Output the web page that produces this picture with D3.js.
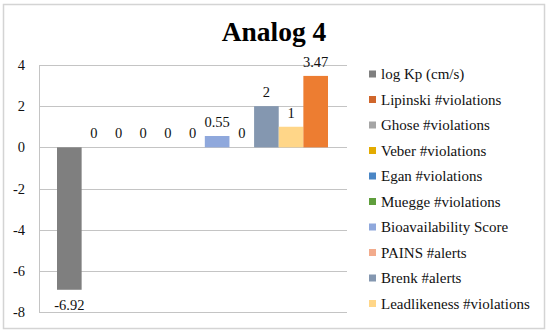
<!DOCTYPE html>
<html>
<head>
<meta charset="utf-8">
<script src="https://cdn.jsdelivr.net/npm/d3@7"></script>
<style>
  body { margin: 0; background: #fff; }
  text { font-family: 'Liberation Serif', 'Times New Roman', serif; }
</style>
</head>
<body>
<div id="app"></div>
<script>
const seriesNames = ['log Kp (cm/s)', 'Lipinski #violations', 'Ghose #violations', 'Veber #violations',
  'Egan #violations', 'Muegge #violations', 'Bioavailability Score', 'PAINS #alerts',
  'Brenk #alerts', 'Leadlikeness #violations', 'Synthetic accessibility'];
const seriesValues = [-6.92, 0, 0, 0, 0, 0, 0.55, 0, 2, 1, 3.47];
const seriesColors = ['#7f7f7f', '#d0662b', '#a5a5a5', '#e3ab00', '#4a86c5', '#5f9e3c',
  '#8fa8dc', '#f2ab8c', '#8497b0', '#ffd688', '#ed7d31'];
const yTicks = [4, 2, 0, -2, -4, -6, -8];
const legendShown = 10; // the last series does not fit in the legend box

(() => {
  const W = 550, H = 332;
  const plot = { left: 39, right: 347, top: 65, bottom: 312 };

  const svg = d3.select('#app').append('svg')
    .attr('width', W)
    .attr('height', H);

  // chart frame
  svg.append('rect')
    .attr('x', 3.5).attr('y', 4.5)
    .attr('width', 541).attr('height', 324)
    .style('fill', '#fff')
    .style('stroke', '#d4d4d4')
    .style('stroke-width', 1.5);

  const y = d3.scaleLinear().domain([-8, 4]).range([plot.bottom, plot.top]);
  const x = d3.scaleBand()
    .domain(d3.range(seriesValues.length))
    .range([57, 328])
    .padding(0);

  // gridlines
  svg.selectAll('line.grid')
    .data(yTicks)
    .enter()
    .append('line')
    .attr('class', 'grid')
    .attr('x1', plot.left).attr('x2', plot.right)
    .attr('y1', d => Math.round(y(d)) + 0.5)
    .attr('y2', d => Math.round(y(d)) + 0.5)
    .style('stroke', '#c4c4c4')
    .style('stroke-width', 1);

  // y axis line
  svg.append('line')
    .attr('x1', plot.left + 0.5).attr('x2', plot.left + 0.5)
    .attr('y1', plot.top).attr('y2', plot.bottom)
    .style('stroke', '#c4c4c4');

  // y tick labels
  svg.selectAll('text.ytick')
    .data(yTicks)
    .enter()
    .append('text')
    .attr('class', 'ytick')
    .text(d => d)
    .attr('x', 25)
    .attr('y', d => y(d) + 5)
    .attr('font-size', 14.5)
    .style('text-anchor', 'end')
    .style('fill', '#111');

  // bars
  svg.selectAll('rect.bar')
    .data(seriesValues)
    .enter()
    .append('rect')
    .attr('class', 'bar')
    .attr('x', (d, i) => x(i))
    .attr('width', x.bandwidth())
    .attr('y', d => y(Math.max(0, d)))
    .attr('height', d => Math.abs(y(d) - y(0)))
    .style('fill', (d, i) => seriesColors[i]);

  // value labels
  svg.selectAll('text.val')
    .data(seriesValues)
    .enter()
    .append('text')
    .attr('class', 'val')
    .text(d => d)
    .attr('x', (d, i) => x(i) + x.bandwidth() / 2)
    .attr('y', d => (d < 0 ? y(d) + 20 : y(d) - 9))
    .attr('font-size', 14.5)
    .style('text-anchor', 'middle')
    .style('fill', '#111');

  // title
  svg.append('text')
    .text('Analog 4')
    .attr('x', 274)
    .attr('y', 41)
    .attr('font-size', 27.5)
    .attr('font-weight', 'bold')
    .style('text-anchor', 'middle')
    .style('fill', '#000');

  // legend
  const legend = svg.append('g')
    .selectAll('g')
    .data(seriesNames.slice(0, legendShown))
    .enter()
    .append('g')
    .attr('transform', (d, i) => `translate(369, ${74 + i * 25.5})`);

  legend.append('rect')
    .attr('x', 0).attr('y', -3.5)
    .attr('width', 7).attr('height', 7)
    .style('fill', (d, i) => seriesColors[i]);

  legend.append('text')
    .text(d => d)
    .attr('x', 12)
    .attr('y', 5)
    .attr('font-size', 15)
    .style('fill', '#111');
})();
</script>
</body>
</html>
